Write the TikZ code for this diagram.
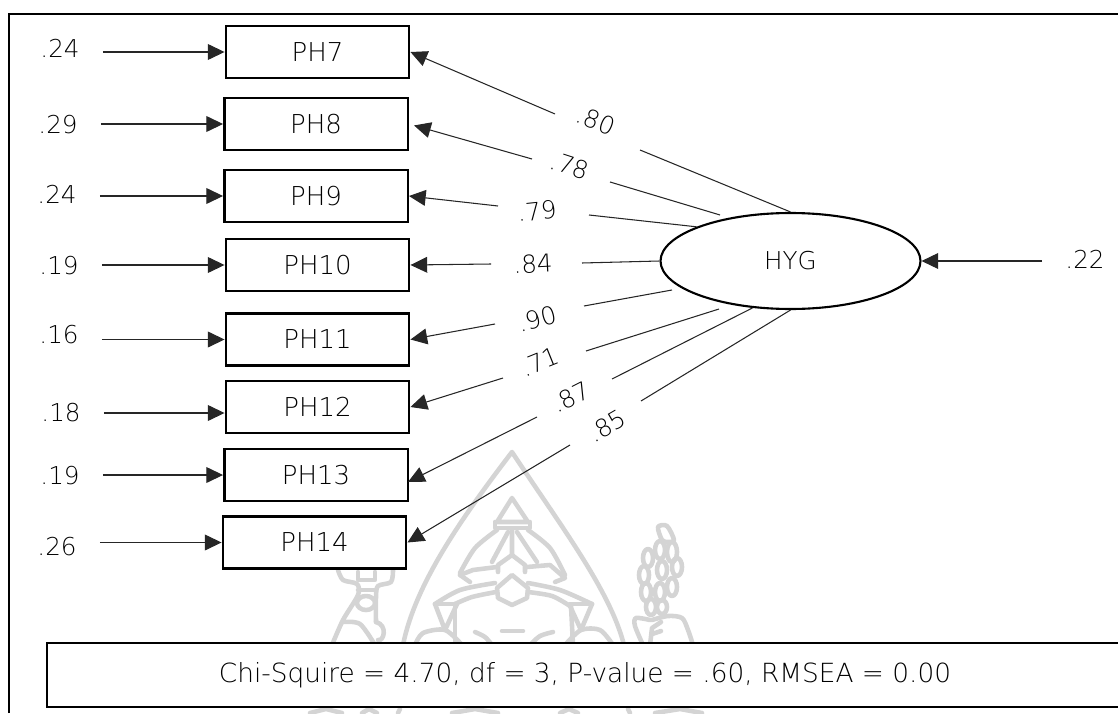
\documentclass[tikz,border=0pt]{standalone}
\usepackage{fontspec}
\setmainfont{DejaVu Sans}[UprightFont=* ExtraLight]
\usetikzlibrary{arrows.meta,shapes.geometric}
\definecolor{wmgray}{HTML}{D4D4D4}
\begin{document}
\begin{tikzpicture}[
	x=0.02cm, y=-0.02cm,
	every node/.style={font=\fontsize{14}{17}\selectfont, text=black},
	box/.style={draw=black, fill=white, line width=1.4pt, minimum width=3.67cm, minimum height=1.04cm, inner sep=0pt, font=\fontsize{14.8}{17}\selectfont},
	error/.style={minimum width=1.7cm, inner sep=0pt},
	load/.style={inner sep=0pt},
	arrow/.style={-{Triangle[length=9.5pt,width=9pt]}, line width=.6pt, black!85},
	link/.style={line width=.6pt, black!85},
	frame/.style={line width=1.2pt, black},
	wmark/.style={line width=2.6pt, wmgray, line cap=round, line join=round}
	]
	\useasboundingbox (0,0) rectangle (1118,713);
	
	% Watermark
	\draw[wmark] (403,645) .. controls (415,585) and (460,520) .. (512,452) .. controls (560,525) and (610,590) .. (624,645);
	\draw[wmark] (512,498) -- (497,522) -- (528,522) -- cycle;
	\draw[wmark] (495,522) -- (495,528) -- (530,528) -- (530,522);
	\draw[wmark] plot[smooth] coordinates {(497,530) (475,548) (460,573)};
	\draw[wmark] plot[smooth] coordinates {(528,530) (550,548) (565,575)};
	\draw[wmark] (508,532) -- (492,562);
	\draw[wmark] (517,532) -- (537,562);
	\draw[wmark] (512,530) -- (512,555) -- (498,565) -- (498,572);
	\draw[wmark] (512,555) -- (525,565) -- (525,572);
	\draw[wmark] (460,575) -- (473,570) -- (497,567);
	\draw[wmark] (460,575) -- (470,582);
	\draw[wmark] (527,567) -- (550,565) -- (565,578) -- (555,582);
	\draw[wmark] (512,575) -- (497,588) -- (498,598) -- (512,605) -- (527,598) -- (528,588) -- cycle;
	\draw[wmark] plot[smooth] coordinates {(435,604) (460,590) (495,583)};
	\draw[wmark] plot[smooth] coordinates {(455,604) (472,597) (496,592)};
	\draw[wmark] plot[smooth] coordinates {(528,583) (560,590) (592,604)};
	\draw[wmark] plot[smooth] coordinates {(528,592) (552,596) (570,606)};
	\draw[wmark] (435,604) -- (445,630) -- (457,604);
	\draw[wmark] (592,604) -- (581,630) -- (570,606);
	\draw[wmark] (435,604) -- (457,604);
	\draw[wmark] (570,604) -- (592,604);
	\draw[wmark] (455,604) -- (455,645);
	\draw[wmark] (571,606) -- (573,645);
	\draw[wmark] plot[smooth] coordinates {(415,645) (423,633) (445,630) (462,645)};
	\draw[wmark] plot[smooth] coordinates {(565,645) (581,630) (600,630) (613,645)};
	\draw[wmark] plot[smooth] coordinates {(475,632) (485,637) (492,645)};
	\draw[wmark] (502,631) -- (523,631);
	\draw[wmark] plot[smooth] coordinates {(530,645) (540,636) (553,632)};
	
	% Left ornament
	\draw[wmark] plot[smooth] coordinates {(338,570) (343,580) (357,584) (358,595) (343,620) (332,645)};
	\draw[wmark] plot[smooth] coordinates {(393,570) (391,582) (378,586) (376,597) (376,622)};
	\draw[wmark] (358,572) -- (358,580) -- (375,580) -- (375,572);
	\draw[wmark] (366,603) ellipse (9 and 7);
	\draw[wmark] (358,590) -- (375,590);
	\draw[wmark] plot[smooth] coordinates {(343,622) (360,624) (375,645)};
	\draw[wmark] (376,622) .. controls (388,625) and (384,642) .. (378,640);
	
	% Wheat ornament
	\draw[wmark] plot[smooth cycle] coordinates {(658,527) (667,526) (674,540) (668,542) (662,540)};
	\draw[wmark] (648,558) ellipse (5 and 9);
	\draw[wmark] (644,575) ellipse (5 and 9);
	\draw[wmark] (646,592) ellipse (5 and 9);
	\draw[wmark] (651,607) ellipse (5 and 8);
	\draw[wmark] (660,550) ellipse (5 and 9);
	\draw[wmark] (662,570) ellipse (5 and 9);
	\draw[wmark] (660,592) ellipse (5 and 9);
	\draw[wmark] (662,607) ellipse (5 and 7);
	\draw[wmark] (672,552) ellipse (5 and 10);
	\draw[wmark] (677,567) ellipse (5 and 9);
	\draw[wmark] (672,587) ellipse (5 and 9);
	\draw[wmark] plot[smooth] coordinates {(650,620) (636,618) (635,626) (643,645)};
	\draw[wmark] plot[smooth] coordinates {(652,620) (668,616) (682,618) (688,630) (693,645)};
	\draw[wmark] (650,645) -- (652,628) -- (661,622);
	\draw[wmark] (652,634) -- (661,631);
	
	% Below the fit box
	\draw[wmark] (310,713) -- (326,709) -- (342,713);
	\draw[wmark] (362,713) -- (369,709) -- (377,713);
	\draw[wmark] (398,713) -- (400,709);
	\draw[wmark] (452,713) -- (475,709) -- (498,713);
	\draw[wmark] (560,713) -- (569,709) -- (578,713);
	\draw[wmark] (655,713) -- (680,709) -- (702,713);
	\draw[wmark] (630,713) -- (628,709);
	
	% Frame
	\draw[frame] (9,713) -- (9,14) -- (1118,14);
	
	% Indicators
	\node (ph7) [box] at (317.5,52) {PH7};
	\node (ph8) [box] at (316,124) {PH8};
	\node (ph9) [box] at (316,196) {PH9};
	\node (ph10) [box] at (317.5,265) {PH10};
	\node (ph11) [box] at (317.5,339.5) {PH11};
	\node (ph12) [box] at (317.5,407) {PH12};
	\node (ph13) [box] at (316,475) {PH13};
	\node (ph14) [box] at (314.5,542.5) {PH14};
	
	% Errors
	\node (e7) [error] at (60,48) {.24};
	\node (e8) [error] at (58,125) {.29};
	\node (e9) [error] at (57,194) {.24};
	\node (e10) [error] at (59,266) {.19};
	\node (e11) [error] at (59,335) {.16};
	\node (e12) [error] at (61,413) {.18};
	\node (e13) [error] at (60,476) {.19};
	\node (e14) [error] at (57,547) {.26};
	\draw[arrow] (e7.east|-ph7.west) -- (ph7.west);
	\draw[arrow] (e8.east|-ph8.west) -- (ph8.west);
	\draw[arrow] (e9.east|-ph9.west) -- (ph9.west);
	\draw[arrow] (e10.east|-ph10.west) -- (ph10.west);
	\draw[arrow] (e11.east|-ph11.west) -- (ph11.west);
	\draw[arrow] (e12.east) -- (e12.east-|ph12.west);
	\draw[arrow] (e13.east|-ph13.west) -- (ph13.west);
	\draw[arrow] (e14.east|-ph14.west) -- (ph14.west);
	
	% Latent
	\node (hyg) [draw=black, shape=ellipse, line width=1.2pt, minimum width=5.2cm, minimum height=1.92cm, inner sep=0pt] at (790.5,261) {HYG};
	\node (e22) [error] at (1085,259) {.22};
	\draw[arrow] (e22.west|-hyg.east) -- (hyg.east);
	
	% Loadings
	\node (l80) [load, rotate=-22] at (596,121) {.80};
	\node (l78) [load, rotate=-18] at (570,166) {.78};
	\node (l79) [load, rotate=6] at (537,211) {.79};
	\node (l84) [load, rotate=3] at (533,264) {.84};
	\node (l90) [load, rotate=15] at (537,319) {.90};
	\node (l71) [load, rotate=22] at (540,362) {.71};
	\node (l87) [load, rotate=27] at (571,397) {.87};
	\node (l85) [load, rotate=30] at (607,426) {.85};
	
	\coordinate (a80) at (555,114);
	\coordinate (b80) at (640,150);
	\coordinate (a78) at (532,159);
	\coordinate (b78) at (610,182);
	\coordinate (c78) at (720,215);
	\coordinate (a79) at (498,206);
	\coordinate (b79) at (589,215);
	\coordinate (a84) at (491,264);
	\coordinate (b84) at (582,263);
	\coordinate (a90) at (495,324);
	\coordinate (b90) at (584,306);
	\coordinate (c90) at (672,290);
	\coordinate (a71) at (503,378);
	\coordinate (b71) at (586,351);
	\coordinate (c71) at (719,309);
	\coordinate (a87) at (537,417);
	\coordinate (b87) at (612,379);
	\coordinate (t87) at (408,482);
	\coordinate (a85) at (570,445);
	\coordinate (b85) at (641,401);
	
	\draw[link] (hyg.north) -- (b80);
	\draw[arrow] (a80) -- (ph7.east);
	\draw[link] (c78) -- (b78);
	\draw[arrow, shorten >=3pt] (a78) -- (ph8.east);
	\draw[link] (hyg.160) -- (b79);
	\draw[arrow] (a79) -- (ph9.east);
	\draw[link] (hyg.west) -- (b84);
	\draw[arrow] (a84) -- (ph10.east);
	\draw[link] (c90) -- (b90);
	\draw[arrow] (a90) -- (ph11.east);
	\draw[link] (c71) -- (b71);
	\draw[arrow] (a71) -- (ph12.east);
	\draw[link] (hyg.231) -- (b87);
	\draw[arrow] (a87) -- (t87);
	\draw[link] (hyg.south) -- (b85);
	\draw[arrow] (a85) -- (ph14.east);
	
	% Fit
	\node (fit) [draw=black, fill=white, line width=1.2pt, minimum width=21.52cm, minimum height=1.28cm, inner sep=0pt, font=\fontsize{15}{18}\selectfont] at (585,675) {Chi-Squire = 4.70, df = 3, P-value = .60, RMSEA = 0.00};
\end{tikzpicture}
\end{document}
